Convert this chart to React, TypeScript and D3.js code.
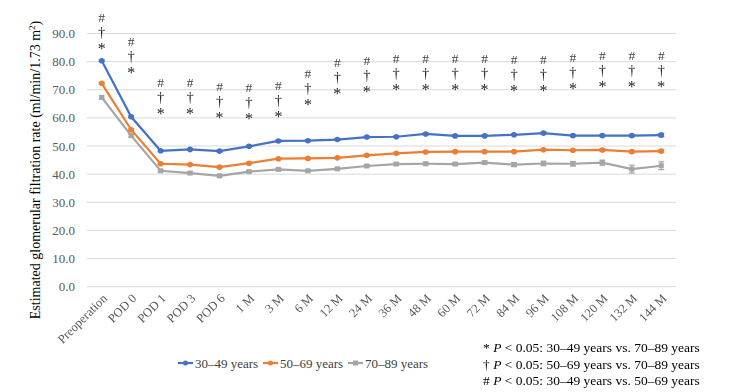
import React, { useEffect, useRef } from "react";
import * as d3 from "d3";

const categories = [
  "Preoperation", "POD 0", "POD 1", "POD 3", "POD 6", "1 M", "3 M", "6 M",
  "12 M", "24 M", "36 M", "48 M", "60 M", "72 M", "84 M", "96 M", "108 M",
  "120 M", "132 M", "144 M",
];

const young = [80.3, 60.4, 48.3, 48.8, 48.2, 49.9, 51.8, 51.9, 52.3, 53.2, 53.3, 54.3, 53.6, 53.6, 54.0, 54.6, 53.7, 53.7, 53.7, 53.9];
const middle = [72.3, 55.8, 43.7, 43.4, 42.5, 43.9, 45.5, 45.6, 45.8, 46.7, 47.4, 47.9, 48.0, 48.0, 48.0, 48.7, 48.5, 48.6, 48.0, 48.2];
const old = [67.3, 53.7, 41.2, 40.4, 39.4, 40.9, 41.7, 41.2, 41.9, 42.9, 43.6, 43.7, 43.6, 44.1, 43.4, 43.8, 43.7, 44.1, 41.8, 43.0];

const youngErr = [0.3, 0.3, 0.3, 0.3, 0.3, 0.3, 0.3, 0.3, 0.3, 0.3, 0.3, 0.3, 0.3, 0.3, 0.3, 0.4, 0.4, 0.4, 0.4, 0.6];
const middleErr = [0.3, 0.3, 0.3, 0.3, 0.3, 0.3, 0.3, 0.3, 0.3, 0.3, 0.3, 0.3, 0.3, 0.3, 0.3, 0.3, 0.3, 0.4, 0.4, 0.4];
const oldErr = [0.5, 0.5, 0.4, 0.4, 0.4, 0.4, 0.4, 0.4, 0.4, 0.4, 0.4, 0.5, 0.5, 0.6, 0.7, 0.8, 0.8, 0.9, 1.4, 1.4];

// y value (in eGFR units) where the "*" of each stack sits
const markLevel = [86.0, 77.4, 62.8, 62.8, 61.4, 60.9, 61.8, 66.1, 69.9, 70.6, 71.2, 71.4, 71.3, 71.3, 71.1, 70.9, 71.6, 72.3, 72.3, 72.3];

const yTicks = [0, 10, 20, 30, 40, 50, 60, 70, 80, 90];

const seriesNames = ["30\u201349 years", "50\u201369 years", "70\u201389 years"];
const seriesColors = ["#4472C4", "#ED7D31", "#A5A5A5"];

const footnotes = [
  ["* ", ": 30\u201349 years vs. 70\u201389 years"],
  ["\u2020 ", ": 50\u201369 years vs. 70\u201389 years"],
  ["# ", ": 30\u201349 years vs. 50\u201369 years"],
];

const FONT = "'Liberation Serif', 'Times New Roman', serif";

const App = () => {
  const svgRef = useRef<SVGSVGElement>(null);

  useEffect(() => {
    const svg = d3.select(svgRef.current);
    svg.selectAll("*").remove();

    // greyscale filter keeps thin glyphs from picking up coloured fringes
    svg
      .append("defs")
      .append("filter")
      .attr("id", "grey")
      .append("feColorMatrix")
      .attr("type", "saturate")
      .attr("values", 0);

    const x = d3.scaleBand().domain(categories).range([87, 676]).padding(0);
    const y = d3.scaleLinear().domain([0, 90]).range([286.7, 33.5]);
    const cx = (i: number) => (x(categories[i]) as number) + x.bandwidth() / 2;

    // gridlines
    svg
      .append("g")
      .selectAll("line")
      .data(yTicks)
      .enter()
      .append("line")
      .attr("x1", 87)
      .attr("x2", 676)
      .attr("y1", (d) => y(d))
      .attr("y2", (d) => y(d))
      .attr("stroke", "#d9d9d9")
      .attr("stroke-width", 1);

    // y tick labels
    svg
      .append("g")
      .selectAll("text")
      .data(yTicks)
      .enter()
      .append("text")
      .attr("x", 75)
      .attr("y", (d) => y(d))
      .attr("dy", "0.35em")
      .attr("text-anchor", "end")
      .attr("font-family", FONT)
      .attr("font-size", 13)
      .attr("fill", "#595959")
      .text((d) => d.toFixed(1));

    // x tick labels
    svg
      .append("g")
      .attr("filter", "url(#grey)")
      .selectAll("text")
      .data(categories)
      .enter()
      .append("text")
      .attr("transform", (d, i) => `translate(${cx(i) + 3},${296}) rotate(-45)`)
      .attr("text-anchor", "end")
      .attr("dy", "0.35em")
      .attr("font-family", FONT)
      .attr("font-size", 12.5)
      .attr("fill", "#595959")
      .text((d) => d);

    // y axis title
    const yTitle = svg
      .append("text")
      .attr("transform", "translate(40,170) rotate(-90)")
      .attr("text-anchor", "middle")
      .attr("font-family", FONT)
      .attr("font-size", 14)
      .attr("fill", "#000");
    yTitle.append("tspan").text("Estimated glomerular filtration rate (ml/min/1.73 m");
    yTitle.append("tspan").attr("baseline-shift", "super").attr("font-size", 9).text("2");
    yTitle.append("tspan").text(")");

    const allSeries = [
      { values: young, err: youngErr, color: seriesColors[0], square: false },
      { values: middle, err: middleErr, color: seriesColors[1], square: false },
      { values: old, err: oldErr, color: seriesColors[2], square: true },
    ];

    const line = d3
      .line<number>()
      .x((d, i) => cx(i))
      .y((d) => y(d));

    // draw gray first so blue sits on top
    [...allSeries].reverse().forEach((s) => {
      const g = svg.append("g");
      g.append("path")
        .datum(s.values)
        .attr("d", line)
        .attr("fill", "none")
        .attr("stroke", s.color)
        .attr("stroke-width", 2.2);

      // error bars
      const eb = g
        .selectAll("g.eb")
        .data(s.values)
        .enter()
        .append("g")
        .attr("stroke", s.color)
        .attr("stroke-width", 1.2);
      eb.append("line")
        .attr("x1", (d, i) => cx(i))
        .attr("x2", (d, i) => cx(i))
        .attr("y1", (d, i) => y(d - s.err[i]))
        .attr("y2", (d, i) => y(d + s.err[i]));
      [-1, 1].forEach((sign) => {
        eb.append("line")
          .attr("x1", (d, i) => cx(i) - 3)
          .attr("x2", (d, i) => cx(i) + 3)
          .attr("y1", (d, i) => y(d + sign * s.err[i]))
          .attr("y2", (d, i) => y(d + sign * s.err[i]));
      });

      if (s.square) {
        g.selectAll("rect")
          .data(s.values)
          .enter()
          .append("rect")
          .attr("x", (d, i) => cx(i) - 2.5)
          .attr("y", (d) => y(d) - 2.5)
          .attr("width", 5)
          .attr("height", 5)
          .attr("fill", s.color);
      } else {
        g.selectAll("circle")
          .data(s.values)
          .enter()
          .append("circle")
          .attr("cx", (d, i) => cx(i))
          .attr("cy", (d) => y(d))
          .attr("r", 2.8)
          .attr("fill", s.color);
      }
    });

    // significance markers
    const marks = svg
      .append("g")
      .attr("font-family", FONT)
      .attr("fill", "#222")
      .attr("text-anchor", "middle")
      .attr("filter", "url(#grey)");
    markLevel.forEach((lv, i) => {
      const yy = y(lv);
      marks.append("text").attr("x", cx(i)).attr("y", yy + 9).attr("font-size", 16).text("*");
      marks.append("text").attr("x", cx(i)).attr("y", yy - 8).attr("font-size", 14.5).text("\u2020");
      marks.append("text").attr("x", cx(i)).attr("y", yy - 23).attr("font-size", 13.5).attr("fill", "#444").text("#");
    });

    // legend
    const legendX = [178, 263, 348];
    const legend = svg.append("g");
    seriesNames.forEach((name, i) => {
      const lg = legend.append("g").attr("transform", `translate(${legendX[i]},363)`);
      lg.append("line").attr("x1", 0).attr("x2", 15).attr("stroke", seriesColors[i]).attr("stroke-width", 2.2);
      if (i === 2) {
        lg.append("rect").attr("x", 5).attr("y", -2.5).attr("width", 5).attr("height", 5).attr("fill", seriesColors[i]);
      } else {
        lg.append("circle").attr("cx", 7.5).attr("r", 2.5).attr("fill", seriesColors[i]);
      }
      lg.append("text")
        .attr("x", 17)
        .attr("dy", "0.35em")
        .attr("font-family", FONT)
        .attr("font-size", 13)
        .attr("fill", "#404040")
        .text(name);
    });

    // footnotes
    const fn = svg
      .append("g")
      .attr("font-family", FONT)
      .attr("font-size", 13.5)
      .attr("fill", "#000")
      .attr("filter", "url(#grey)");
    footnotes.forEach(([sym, rest], i) => {
      const t = fn.append("text").attr("x", 483).attr("y", 352 + i * 16.5);
      t.append("tspan").text(sym);
      t.append("tspan").attr("font-style", "italic").text("P");
      t.append("tspan").text(" < 0.05" + rest);
    });
  }, []);

  return (
    <svg
      ref={svgRef}
      width={748}
      height={392}
      style={{ position: "absolute", left: 0, top: 0, background: "#fff" }}
    />
  );
};

export default App;
